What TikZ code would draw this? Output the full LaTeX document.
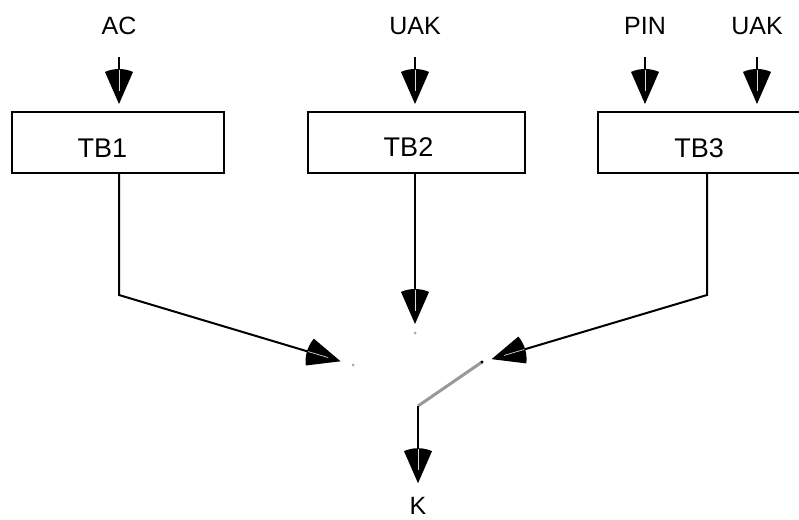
\documentclass[tikz,border=0pt]{standalone}
\usepackage{fontspec}
\setmainfont{Liberation Sans}

% Fan-shaped arrow head: a filled circular sector with a thin light core
\pgfdeclarearrow{
  name = Fan,
  setup code = {
    \pgfarrowssettipend{0pt}
    \pgfarrowssetlineend{-12pt}
    \pgfarrowssetbackend{-35pt}
    \pgfarrowssetvisualbackend{-35pt}
    \pgfarrowshullpoint{0pt}{0pt}
    \pgfarrowshullpoint{-35pt}{14pt}
    \pgfarrowshullpoint{-35pt}{-14pt}
  },
  drawing code = {
    \pgfsetfillcolor{black}
    \pgfpathmoveto{\pgfpointorigin}
    \pgfpathlineto{\pgfpointpolar{156.4}{35pt}}
    \pgfpatharc{156.4}{203.6}{35pt}
    \pgfpathclose
    \pgfusepathqfill
    \pgfsetlinewidth{0.7pt}
    \pgfsetstrokecolor{black!15}
    \pgfpathmoveto{\pgfpoint{-34pt}{0pt}}
    \pgfpathlineto{\pgfpoint{-13pt}{0pt}}
    \pgfusepathqstroke
  }
}

\begin{document}
\begin{tikzpicture}[x=1pt, y=-1pt,
  lbl/.style={inner sep=0pt, font=\fontsize{25}{30}\selectfont},
  boxtext/.style={inner sep=0pt, font=\fontsize{27}{32}\selectfont},
  block/.style={draw, line width=2pt, inner sep=0pt, minimum height=61pt},
  wire/.style={line width=2pt, -Fan},
  contact/.style={circle, fill=gray!70, inner sep=0pt, minimum size=3pt},
  lever/.style={line width=3pt, gray!80}]

  \fill[white] (0,0) rectangle (799,519);
  \clip (0,0) rectangle (799,519);

  % input labels
  \node[lbl] (ac)   at (119,26) {AC};
  \node[lbl] (uak1) at (415,26) {UAK};
  \node[lbl] (pin)  at (645,26) {PIN};
  \node[lbl] (uak2) at (757,26) {UAK};

  % blocks
  \node[block, minimum width=212pt] (tb1) at (118,142.5) {};
  \node[block, minimum width=217pt] (tb2) at (416.5,142.5) {};
  \node[block, minimum width=222pt] (tb3) at (709,142.5) {};
  \node[boxtext] (t1) at (102.5,148) {TB1};
  \node[boxtext] (t2) at (408.5,147) {TB2};
  \node[boxtext] (t3) at (699,148) {TB3};

  % switch contacts and pivot
  \coordinate (bend1) at (119,295);
  \coordinate (bend3) at (707,295);
  \coordinate (pivot) at (418,406);
  \node[contact] (c1) at (353,365) {};
  \node[contact] (c2) at (415,333) {};
  \coordinate (c3) at (482,362);

  % inputs into the blocks
  \draw[wire, shorten <=22pt, shorten >=7pt] (ac.south) -- (ac.south |- tb1.north);
  \draw[wire, shorten <=22pt, shorten >=7pt] (uak1.south) -- (uak1.south |- tb2.north);
  \draw[wire, shorten <=22pt, shorten >=7pt] (pin.south) -- (pin.south |- tb3.north);
  \draw[wire, shorten <=22pt, shorten >=7pt] (uak2.south) -- (uak2.south |- tb3.north);

  % block outputs to the switch
  \draw[wire, shorten >=13pt] (bend1 |- tb1.south) -- (bend1) -- (c1.center);
  \draw[wire, shorten >=9pt] (c2 |- tb2.south) -- (c2.center);
  \draw[wire, shorten >=10pt] (bend3 |- tb3.south) -- (bend3) -- (c3);

  % switch lever
  \draw[lever] (pivot) -- (c3);
  \fill[black] (c3) circle (1.6pt);

  % output
  \node[lbl] (k) at (418,506) {K};
  \draw[wire, shorten >=14pt] (pivot) -- (k.north);
\end{tikzpicture}
\end{document}
